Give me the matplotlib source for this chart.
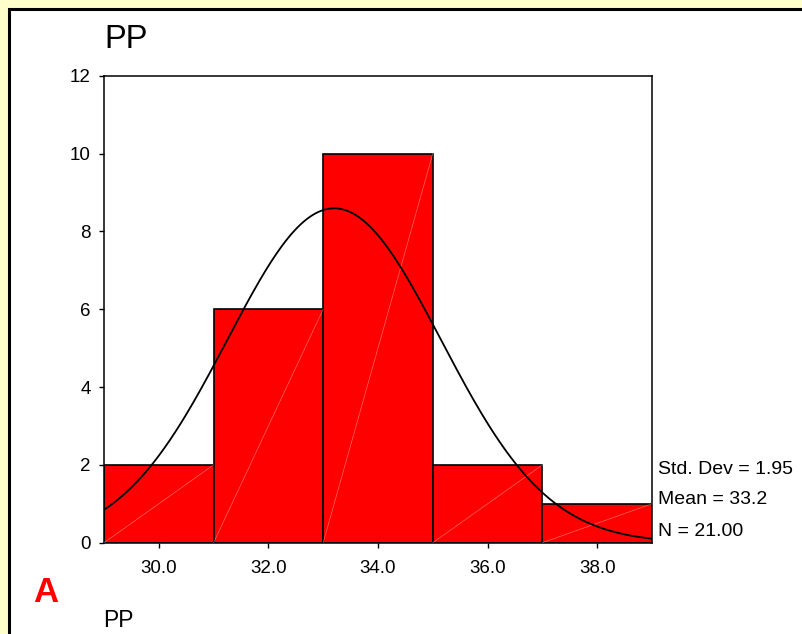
import numpy as np
import matplotlib
matplotlib.use("Agg")
import matplotlib.pyplot as plt
from matplotlib.patches import Rectangle

plt.rcParams['font.family'] = ['Liberation Sans', 'DejaVu Sans']

# ---- data ----
bin_edges = [29, 31, 33, 35, 37, 39]
counts = [2, 6, 10, 2, 1]
x_ticks = [30.0, 32.0, 34.0, 36.0, 38.0]
x_tick_labels = ["30.0", "32.0", "34.0", "36.0", "38.0"]
y_ticks = [0, 2, 4, 6, 8, 10, 12]
std_dev = 1.95
mean = 33.2
n = 21.00
title = "PP"
xlabel = "PP"
panel_letter = "A"

W, H = 803, 634
fig = plt.figure(figsize=(W / 100, H / 100), dpi=100)
fig.patch.set_facecolor('#FFFFCC')

def fx(px):
    return px / W

def fy(py):
    return 1 - py / H

# white panel with black border (left/top visible)
panel = Rectangle((fx(9.5), -0.2), 1.5, fy(9.5) + 0.2, transform=fig.transFigure,
                  facecolor='white', edgecolor='black', linewidth=2.2, zorder=-5)
fig.patches.append(panel)

ax = fig.add_axes([fx(104), fy(542.7), fx(652) - fx(104), fy(75.7) - fy(542.7)])
ax.set_facecolor('white')
ax.set_zorder(1)

lefts = bin_edges[:-1]
widths = [bin_edges[i + 1] - bin_edges[i] for i in range(len(counts))]
ax.bar(lefts, counts, width=widths, align='edge', color='#FF0000',
       edgecolor='black', linewidth=1.2, zorder=2)
# faint diagonal lines in each bar
for l, w, c in zip(lefts, widths, counts):
    ax.plot([l, l + w], [0, c], color='white', linewidth=0.5, alpha=0.4, zorder=3)

# normal curve
bw = widths[0]
xs = np.linspace(bin_edges[0], bin_edges[-1], 300)
ys = n * bw / (std_dev * np.sqrt(2 * np.pi)) * np.exp(-0.5 * ((xs - mean) / std_dev) ** 2)
ax.plot(xs, ys, color='black', linewidth=1.3, zorder=4)

ax.set_xlim(bin_edges[0], bin_edges[-1])
ax.set_ylim(0, 12)
ax.set_xticks(x_ticks)
ax.set_xticklabels(x_tick_labels)
ax.set_yticks(y_ticks)
ax.tick_params(axis='both', labelsize=13.5, length=3.6, width=1.0, color='black')
ax.tick_params(axis='y', pad=6)
ax.tick_params(axis='x', pad=8.5)
for s in ax.spines.values():
    s.set_linewidth(1.1)
    s.set_color('black')

# texts
fig.text(fx(104), fy(48.3), title, fontsize=23.5, ha='left', va='baseline')
fig.text(fx(33), fy(601.7), panel_letter, fontsize=25, fontweight='bold',
         color='#FF0000', ha='left', va='baseline')
fig.text(fx(103), fy(626.7), xlabel, fontsize=16.5, ha='left', va='baseline')

stats = [f"Std. Dev = {std_dev:.2f}", f"Mean = {mean:.1f}", f"N = {n:.2f}"]
baselines = [474, 504, 536]
for s, b in zip(stats, baselines):
    fig.text(fx(658), fy(b), s, fontsize=14, ha='left', va='baseline')

fig.savefig('out.png', dpi=100, facecolor=fig.get_facecolor())
